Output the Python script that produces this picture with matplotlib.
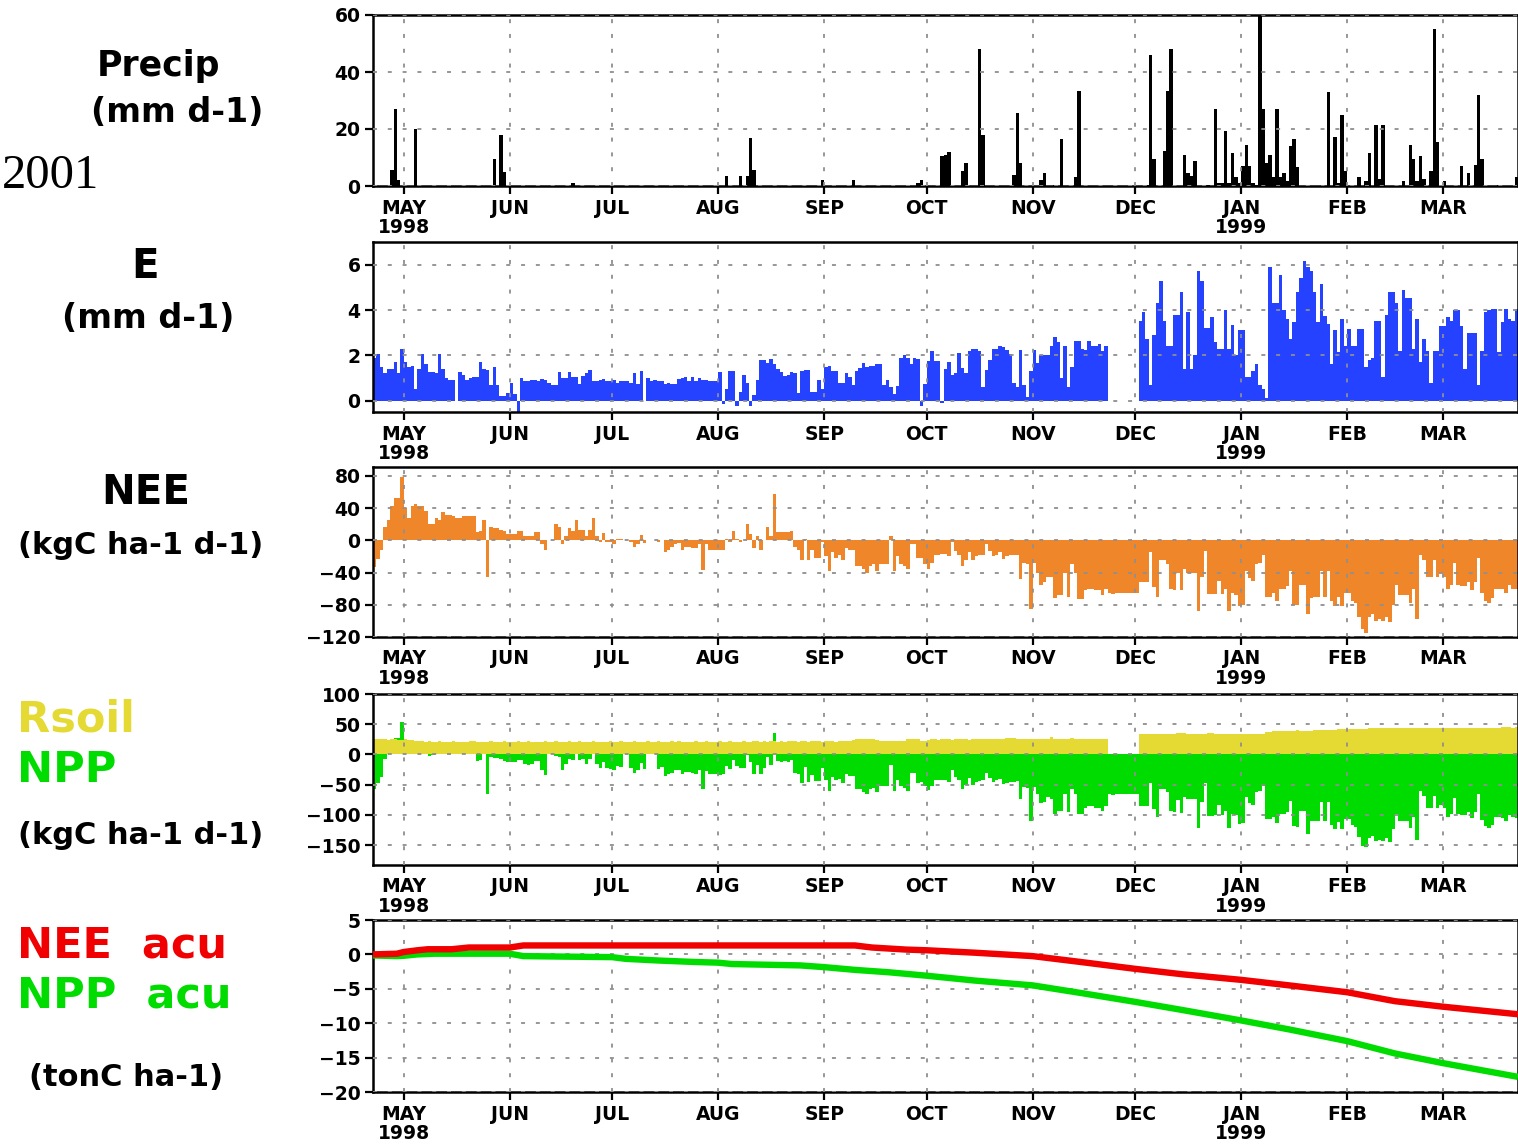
import matplotlib
matplotlib.use("Agg")
import matplotlib.pyplot as plt
import numpy as np

plt.rcParams['font.family'] = ['DejaVu Sans']
plt.rcParams['axes.unicode_minus'] = True

# ---------------- time axis (day index 0 = 22 Apr 1998) ----------------
N_DAYS = 335
month_days = [9, 40, 70, 101, 132, 162, 193, 223, 254, 285, 313]
month_labels = ['MAY\n1998', 'JUN', 'JUL', 'AUG', 'SEP', 'OCT', 'NOV', 'DEC',
                'JAN\n1999', 'FEB', 'MAR']

# ---------------- Precip (mm d-1): rainy days only ----------------
precip_days = [5, 6, 7, 12, 35, 37, 38, 58, 103, 107, 109, 110, 111, 131, 140,
               159, 160, 166, 167, 168, 172, 173, 177, 178, 187, 188, 189, 195,
               196, 199, 201, 205, 206, 226, 227, 228, 231, 232, 233, 237, 238,
               239, 240, 243, 244, 246, 247, 248, 249, 250, 251, 252, 253, 254,
               255, 256, 257, 258, 259, 260, 261, 262, 263, 264, 265, 266, 267,
               268, 269, 270, 277, 279, 281, 282, 283, 284, 288, 290, 291, 293,
               294, 295, 301, 303, 304, 305, 306, 307, 309, 310, 311, 313, 318,
               320, 322, 323, 324, 329, 334]
precip_vals = [5.5, 27, 2, 20, 9.5, 18, 5, 1.2, 3.5, 3.5, 3.5, 17, 5.5, 2, 2,
               1, 2, 10.5, 11, 12, 5.4, 8, 48, 18, 4, 25.6, 8, 2,
               4.5, 0.5, 16.5, 3.3, 33.5, 0.3, 46, 9.5, 12.4, 33.5, 48, 11, 4.6,
               3.4, 8.9, 0.5, 0.5, 27, 1, 1, 19.4, 1, 11.7, 3.3, 1, 7,
               14.5, 7, 1, 0.5, 62, 27, 8, 11, 3.3, 27, 3.3, 4.7, 1.9,
               14, 16.6, 6.8, 0.4, 33, 17.3, 1, 25, 5.4, 3.3, 1.9, 11.7, 21.5,
               2.5, 21.5, 1.9, 14.5, 9.5, 1.9, 10.4, 2.5, 5.4, 55, 15.3, 1.9, 7,
               4.6, 7.5, 32, 9.5, 0.4, 3.3]

# ---------------- E (mm d-1), daily ----------------
evap_apr_may = [1.9, 2.05, 1.5, 1.2, 1.4, 1.4, 1.7, 1.2, 2.3, 1.7, 1.5, 1.55, 0.5,
                1.4, 2.05, 1.6, 1.25, 1.25, 1.2, 2.05, 1.4, 1.0, 0.9, 0.9, 0.0,
                1.25, 1.15, 0.9, 1.0, 1.05, 1.05, 1.7, 1.4, 1.35, 0.7, 1.5, 0.7,
                0.2, 0.2, 0.35, 0.8, 0.3, -0.6]
evap_jun_jul = [1.0, 0.85, 0.85, 0.9, 0.9, 0.85, 0.95, 0.9, 0.8, 0.7, 0.7, 1.25,
                1.0, 1.0, 1.25, 1.05, 1.05, 0.75, 1.1, 1.2, 1.35, 0.85, 0.85, 0.9,
                0.95, 0.85, 0.85, 0.9, 0.8, 0.85, 0.85, 0.85, 0.8, 1.2, 0.75, 1.3,
                0.0,
                1.0, 0.85, 0.9, 0.85, 0.85, 0.75, 0.8, 0.75, 0.75, 0.95, 1.0, 1.05,
                0.85, 1.05, 0.85, 1.0, 0.9, 0.9, 0.85, 0.85, 0.85]
evap_aug_sep = [1.25, -0.15, 0.5, 1.3, 1.3, -0.25, 0.4, 1.15, 0.8, -0.25, 0.25,
                0.9, 1.8, 1.8, 1.65, 1.85, 1.6, 1.4, 1.25, 1.1, 1.15, 1.25, 1.2,
                0.35, 1.3, 1.35, 1.35, 0.4, 0.4, 0.9, 0.5,
                1.5, 1.55, 1.3, 1.3, 0.8, 0.8, 1.2, 1.05, 0.7, 1.3, 1.45, 1.65,
                1.5, 1.55, 1.55, 1.6, 1.6, 0.7, 0.9, 0.6, 0.3, 0.65, 1.9]
evap_oct_nov = [2.0, 1.9, 1.6, 1.9, 1.85, -0.25, 0.75, 1.75, 2.2, 1.75, 1.75,
                -0.1, 1.4, 1.7, 1.15, 1.2, 2.1, 1.45, 1.2, 2.2, 2.3, 2.3, 2.2,
                0.6, 1.35, 1.8, 2.3, 2.3, 2.4, 2.35, 2.25, 2.05, 0.8, 0.6, 2.25,
                0.7, 0.15, 1.3, 2.25, 1.65, 2.0, 2.0, 2.0, 2.4, 2.8, 2.6, 1.0,
                2.4, 0.6, 1.5, 2.65, 2.65, 2.3, 2.25, 2.65, 2.4, 2.4, 2.5, 2.2,
                2.4,
                0.0, 0.0, 0.0, 0.0, 0.0, 0.0, 0.0, 0.0, 0.0]
evap_dec_mar = [3.5, 3.9, 2.7, 0.7, 2.9, 4.3, 5.3, 3.5, 2.4, 2.4,
                3.8, 3.8, 4.8, 1.4, 3.9, 1.4, 2.0, 5.7, 5.3, 3.2,
                3.2, 3.7, 2.6, 2.3, 2.3, 4.0, 2.3, 3.35, 2.0, 3.1,
                3.1, 1.05, 1.05, 1.3, 1.6, 0.7, 0.5, 0.1, 5.9, 4.3,
                4.3, 5.55, 4.0, 3.6, 2.7, 3.45, 4.8, 5.4, 6.15, 5.9,
                5.7, 4.8, 3.45, 5.15, 3.75, 3.4, 1.6, 3.1, 2.15, 3.6,
                2.4, 3.15, 2.4, 2.4, 3.15, 3.15, 1.5, 1.8, 1.9, 3.5,
                3.5, 1.05, 3.8, 4.8, 4.8, 4.3, 2.2, 4.9, 4.55, 4.55,
                2.3, 3.6, 1.7, 2.7, 2.2, 0.8, 2.2, 2.2, 3.3, 3.3,
                3.7, 3.5, 4.0, 4.0, 3.3, 1.4, 3.0, 3.0, 3.0, 0.7,
                2.2, 3.9, 4.0, 4.05, 4.05, 2.15, 3.45, 4.05, 3.6, 3.5, 4.05]

# ---------------- NEE (kgC ha-1 d-1), daily ----------------
nee = [-33, -23, -12, 17, 25, 42, 52, 52, 78, 40,
       28, 42, 45, 42, 42, 37, 20, 20, 28, 25,
       35, 32, 32, 30, 28, 28, 30, 30, 30, 30,
       10, 12, 25, -45, 17, 15, 15, 13, 11, 8,
       8, 8, 12, 12, 5, 5, 5, 10, 10, -5,
       -12, 0, 0, 20, 17, -5, 5, 15, 12, 25,
       13, 13, 5, 13, 28, 5, -2, 9, -2, -2,
       -5, 2, 2, 0, 0, -2, -8, -4, 7, -3,
       0, 0, 0, -2, 0, -15, -12, -8, -5, -3,
       -12, -8, -8, -10, -10, -5, -37, -5, -12, -12,
       -12, -12, -12, 2, -2, 12, 2, -2, 0, 20,
       8, -10, 5, -12, 0, 17, 5, 57, 10, 10,
       10, 10, 12, -8, -12, -25, 2, -25, -12, -22,
       -22, -2, -20, -38, -15, -22, -18, -25, -10, -12,
       -12, -32, -32, -36, -40, -32, -30, -38, -30, -30,
       -30, 5, -38, -20, -30, -32, -35, -5, -5, -22,
       -22, -30, -35, -28, -18, -18, -17, -17, -20, -2,
       -13, -18, -32, -25, -15, -25, -20, -18, -18, -5,
       -13, -20, -18, -15, -23, -20, -18, -18, -18, -48,
       -28, -30, -85, -28, -40, -55, -52, -45, -45, -72,
       -68, -68, -40, -70, -30, -40, -73, -73, -62, -60,
       -60, -62, -62, -68, -60, -65, -67, -65, -65, -65,
       -65, -65, -65, -65, -52, -52, -52, -15, -58, -70,
       -25, -25, -30, -60, -62, -40, -62, -35, -40, -40,
       -40, -88, -45, -13, -67, -67, -67, -50, -67, -60,
       -88, -65, -68, -82, -80, -38, -47, -50, -30, -28,
       -18, -70, -70, -65, -75, -60, -60, -57, -38, -80,
       -80, -55, -55, -92, -72, -70, -70, -38, -70, -38,
       -75, -82, -70, -82, -65, -65, -75, -78, -95, -110,
       -115, -95, -92, -100, -98, -100, -95, -102, -80, -55,
       -68, -68, -68, -78, -60, -98, -18, -25, -45, -45,
       -25, -45, -40, -45, -60, -55, -28, -55, -57, -57,
       -52, -62, -52, -22, -65, -75, -78, -72, -60, -60,
       -60, -65, -55, -60, -60]

# ---------------- Rsoil (kgC ha-1 d-1), daily ----------------
rsoil = [25, 25, 26, 25, 24, 25, 25, 24, 24, 25,
         24, 24, 23, 22, 22, 21, 22, 21, 21, 22,
         21, 21, 21, 22, 21, 21, 21, 21, 22, 22,
         21, 21, 21, 21, 22, 21, 21, 21, 22, 21,
         21, 21, 22, 21, 21, 22, 21, 21, 21, 21,
         22, 21, 21, 22, 21, 21, 21, 22, 21, 21,
         22, 21, 21, 21, 22, 21, 21, 21, 21, 22,
         21, 21, 22, 21, 21, 21, 22, 21, 21, 21,
         22, 21, 21, 22, 21, 21, 21, 22, 21, 22,
         21, 21, 21, 21, 22, 21, 21, 22, 21, 21,
         21, 22, 21, 21, 22, 21, 21, 21, 22, 21,
         21, 22, 22, 21, 22, 21, 22, 22, 21, 22,
         21, 22, 22, 22, 21, 22, 22, 21, 22, 22,
         22, 21, 22, 22, 22, 21, 22, 22, 23, 23,
         24, 25, 25, 26, 26, 26, 25, 24, 23, 22,
         22, 22, 22, 22, 23, 23, 26, 26, 25, 26,
         23, 23, 24, 25, 25, 24, 25, 25, 25, 24,
         25, 25, 25, 25, 24, 25, 26, 26, 25, 26,
         26, 26, 25, 26, 26, 28, 28, 27, 26, 26,
         26, 25, 26, 26, 26, 26, 26, 26, 29, 26,
         26, 26, 26, 26, 27, 26, 26, 26, 26, 26,
         26, 26, 26, 26, 26, 0, 0, 0, 0, 0,
         0, 0, 0, 0, 33, 33, 33, 33, 33, 33,
         33, 33, 33, 34, 34, 35, 35, 35, 34, 33,
         33, 33, 33, 34, 35, 35, 34, 33, 33, 33,
         33, 33, 33, 33, 33, 33, 33, 33, 33, 33,
         34, 37, 37, 39, 39, 39, 39, 39, 39, 39,
         40, 39, 39, 39, 39, 40, 40, 41, 41, 41,
         41, 41, 42, 42, 42, 42, 42, 42, 42, 42,
         42, 43, 43, 43, 43, 43, 43, 43, 43, 43,
         43, 43, 43, 43, 43, 43, 43, 43, 44, 43,
         43, 43, 43, 43, 43, 43, 44, 43, 43, 43,
         43, 43, 43, 44, 44, 44, 44, 44, 44, 44,
         45, 45, 45, 44, 45]

# ---------------- NPP (kgC ha-1 d-1), daily ----------------
npp = [-58, -48, -38, -8, 1, 17, 27, 28, 54, 15,
       4, 18, 22, 20, 20, 16, -2, -1, 7, 3,
       14, 11, 11, 8, 7, 7, 9, 9, 8, 8,
       -11, -9, 4, -66, -5, -6, -6, -8, -11, -13,
       -13, -13, -10, -9, -16, -17, -16, -11, -11, -26,
       -34, 0, 0, -2, -4, -26, -16, -7, -9, 4,
       -9, -8, -16, -8, 6, -16, -23, -12, -23, -24,
       -26, -19, -20, 0, 0, -23, -30, -25, -14, -24,
       0, 0, 0, -24, -21, -36, -33, -30, -26, -25,
       -33, -29, -29, -31, -32, -26, -58, -27, -33, -33,
       -33, -34, -33, -19, -24, -9, -19, -23, -22, -1,
       -13, -32, -17, -33, -22, -4, -17, 35, -11, -12,
       -11, -12, -10, -30, -33, -47, -20, -46, -34, -44,
       -44, -23, -42, -60, -37, -43, -40, -47, -33, -35,
       -36, -57, -57, -62, -66, -58, -55, -62, -53, -52,
       -52, -17, -60, -42, -53, -55, -61, -31, -30, -48,
       -45, -53, -59, -53, -43, -42, -42, -42, -45, -26,
       -38, -43, -57, -50, -39, -50, -46, -44, -43, -31,
       -39, -46, -43, -41, -49, -48, -46, -45, -44, -74,
       -54, -55, -111, -54, -66, -81, -78, -71, -74, -98,
       -94, -94, -66, -96, -57, -66, -99, -99, -88, -86,
       -86, -88, -88, -94, -86, -65, -67, -65, -65, -65,
       -65, -65, -65, -65, -85, -85, -85, -48, -91, -103,
       -58, -58, -63, -94, -96, -75, -97, -70, -74, -73,
       -73, -121, -78, -47, -102, -102, -101, -83, -100, -93,
       -121, -98, -101, -115, -113, -71, -80, -83, -63, -61,
       -52, -107, -107, -104, -114, -99, -99, -96, -77, -119,
       -120, -94, -94, -131, -111, -110, -110, -79, -111, -79,
       -116, -123, -112, -124, -107, -107, -117, -120, -137, -152,
       -153, -138, -135, -143, -141, -143, -138, -145, -123, -98,
       -111, -111, -111, -121, -103, -141, -61, -68, -89, -88,
       -68, -88, -83, -88, -103, -98, -72, -98, -100, -100,
       -95, -105, -95, -66, -109, -119, -122, -116, -104, -104,
       -105, -110, -100, -104, -105]

# ---------------- accumulated (tonC ha-1), read at nodes ----------------
nee_acu_days = [0, 7, 9, 13, 16, 23, 28, 40, 44, 70, 101, 132, 141, 146, 156,
                162, 176, 193, 207, 223, 237, 254, 268, 285, 299, 313, 335]
nee_acu_vals = [0.0, 0.1, 0.35, 0.6, 0.75, 0.75, 1.0, 1.0, 1.3, 1.3, 1.3, 1.3,
                1.3, 1.0, 0.7, 0.6, 0.25, -0.25, -1.1, -2.1, -2.9, -3.7, -4.5,
                -5.5, -6.8, -7.6, -8.7]
npp_acu_days = [0, 7, 9, 13, 18, 28, 40, 44, 70, 74, 84, 94, 101, 105, 125, 132,
                141, 151, 162, 176, 193, 207, 223, 237, 254, 268, 285, 299, 313,
                335]
npp_acu_vals = [-0.15, -0.25, -0.2, 0.0, 0.1, 0.1, 0.1, -0.25, -0.4, -0.65,
                -0.9, -1.1, -1.2, -1.4, -1.6, -1.85, -2.25, -2.6, -3.1, -3.8,
                -4.5, -5.6, -6.9, -8.1, -9.6, -10.9, -12.6, -14.4, -15.8, -17.8]

# ---------------- build daily tables ----------------
days = np.arange(N_DAYS)
precip = np.zeros(N_DAYS)
precip[np.array(precip_days)] = precip_vals
evap = np.array(evap_apr_may + evap_jun_jul + evap_aug_sep + evap_oct_nov + evap_dec_mar)
nee = np.array(nee, dtype=float)
rsoil = np.array(rsoil, dtype=float)
npp = np.array(npp, dtype=float)

# ---------------- colours ----------------
C_BLUE = '#2442ff'
C_ORANGE = '#f0862a'
C_YELLOW = '#e5d933'
C_GREEN = '#00dc00'
C_RED = '#f00000'

W, H = 1518, 1147
fig = plt.figure(figsize=(W / 100, H / 100), dpi=100)


def px_axes(top, bottom, left=373, right=1518):
    return fig.add_axes([left / W, 1 - bottom / H, (right - left) / W, (bottom - top) / H])


def style(ax, yticks, ylim):
    ax.set_xlim(0, N_DAYS)
    ax.set_ylim(*ylim)
    ax.set_yticks(yticks)
    ax.set_xticks(month_days)
    ax.set_xticklabels(month_labels, linespacing=1.05)
    ax.grid(True, color='#8f8f8f', linestyle=(0, (2.2, 6)), linewidth=1.3)
    ax.set_axisbelow(False)
    for s in ax.spines.values():
        s.set_linewidth(1.8)
    ax.tick_params(direction='out', length=6, width=1.6, labelsize=13.5, pad=3)
    for lab in ax.get_xticklabels() + ax.get_yticklabels():
        lab.set_fontweight('bold')


def bars(ax, vals, color):
    ax.bar(days, vals, width=1.0, align='edge', color=color, linewidth=0,
           antialiased=False, zorder=1)


ax1 = px_axes(15, 186)
bars(ax1, precip, 'black')
style(ax1, [0, 20, 40, 60], (0, 60))

ax2 = px_axes(242, 412)
bars(ax2, evap, C_BLUE)
style(ax2, [0, 2, 4, 6], (-0.5, 7.0))

ax3 = px_axes(467, 637)
bars(ax3, nee, C_ORANGE)
style(ax3, [-120, -80, -40, 0, 40, 80], (-120, 91))

ax4 = px_axes(694, 865)
bars(ax4, npp, C_GREEN)
bars(ax4, rsoil, C_YELLOW)
style(ax4, [-150, -100, -50, 0, 50, 100], (-183, 100))

ax5 = px_axes(920, 1092)
ax5.plot(npp_acu_days, npp_acu_vals, color=C_GREEN, lw=4.6, zorder=3,
         solid_capstyle='butt')
ax5.plot(nee_acu_days, nee_acu_vals, color=C_RED, lw=4.6, zorder=3,
         solid_capstyle='butt')
style(ax5, [-20, -15, -10, -5, 0, 5], (-20, 5))

# ---------------- left-hand titles ----------------
def ftxt(x, y, s, size, color='black', ha='center', weight='bold', **kw):
    fig.text(x / W, 1 - y / H, s, ha=ha, va='center', fontsize=size,
             color=color, fontweight=weight, **kw)


ftxt(159, 66, 'Precip', 25)
ftxt(177, 112, '(mm d-1)', 24)
fig.text(2 / W, 1 - 188 / H, '2001', ha='left', va='baseline',
         family='Liberation Serif', fontsize=35, color='black')
ftxt(145, 267, 'E', 29)
ftxt(148, 318, '(mm d-1)', 24)
ftxt(146, 493, 'NEE', 29)
ftxt(141, 545, '(kgC ha-1 d-1)', 22)
ftxt(17, 720, 'Rsoil', 31, color=C_YELLOW, ha='left')
ftxt(17, 770, 'NPP', 31, color=C_GREEN, ha='left')
ftxt(141, 836, '(kgC ha-1 d-1)', 22)
ftxt(17, 946, 'NEE  acu', 31, color=C_RED, ha='left')
ftxt(17, 996, 'NPP  acu', 31, color=C_GREEN, ha='left')
ftxt(126, 1077, '(tonC ha-1)', 22)

fig.savefig('out.png', dpi=100)
